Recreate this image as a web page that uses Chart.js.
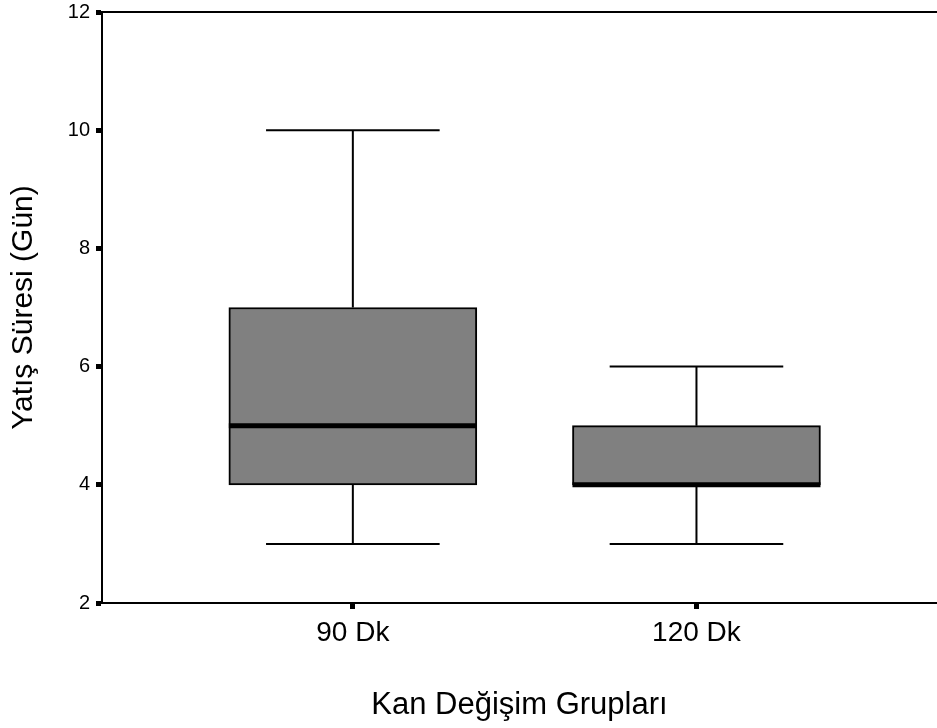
<!DOCTYPE html>
<html>
<head>
<meta charset="utf-8">
<script src="https://cdn.jsdelivr.net/npm/chart.js@4.4.1/dist/chart.umd.min.js"></script>
<style>
html,body{margin:0;padding:0;background:#fff;}
#wrap{width:937px;height:728px;}
</style>
</head>
<body>
<div id="wrap"><canvas id="c" width="937" height="728"></canvas></div>
<script>
// Data
const categories = ['90 Dk', '120 Dk'];
const minVals    = [3, 3];
const q1Vals     = [4, 4];
const medianVals = [5, 4];
const q3Vals     = [7, 5];
const maxVals    = [10, 6];
const yTicks     = [2, 4, 6, 8, 10, 12];

const FONT = '"Liberation Sans", Arial, sans-serif';

const boxData = categories.map((c, i) => ({x: i + 1, y: [q1Vals[i], q3Vals[i]]}));

const boxPlugin = {
  id: 'boxExtras',
  afterDatasetsDraw(chart) {
    const ctx = chart.ctx;
    const xs = chart.scales.x, ys = chart.scales.y;
    const meta = chart.getDatasetMeta(0);
    ctx.save();
    ctx.strokeStyle = '#000';
    categories.forEach((c, i) => {
      const bar = meta.data[i];
      const cx = xs.getPixelForValue(i + 1);
      const w = bar.width;
      const capHalf = w * 0.35;
      const yMin = ys.getPixelForValue(minVals[i]);
      const yQ1 = ys.getPixelForValue(q1Vals[i]);
      const yQ3 = ys.getPixelForValue(q3Vals[i]);
      const yMax = ys.getPixelForValue(maxVals[i]);
      const yMed = ys.getPixelForValue(medianVals[i]);
      ctx.lineWidth = 2;
      ctx.beginPath();
      ctx.moveTo(cx, yQ3); ctx.lineTo(cx, yMax);
      ctx.moveTo(cx, yQ1); ctx.lineTo(cx, yMin);
      ctx.moveTo(cx - capHalf, yMax); ctx.lineTo(cx + capHalf, yMax);
      ctx.moveTo(cx - capHalf, yMin); ctx.lineTo(cx + capHalf, yMin);
      ctx.stroke();
      ctx.lineWidth = 5;
      ctx.beginPath();
      ctx.moveTo(cx - w / 2, yMed); ctx.lineTo(cx + w / 2, yMed);
      ctx.stroke();
    });
    // top frame line
    const a = chart.chartArea;
    ctx.lineWidth = 2;
    ctx.beginPath();
    ctx.moveTo(a.left, a.top); ctx.lineTo(a.right, a.top);
    ctx.stroke();
    ctx.restore();
  }
};

new Chart(document.getElementById('c'), {
  type: 'bar',
  data: {
    datasets: [{
      data: boxData,
      backgroundColor: '#808080',
      borderColor: '#000',
      borderWidth: 2,
      borderSkipped: false,
      barThickness: 248
    }]
  },
  options: {
    responsive: false,
    animation: false,
    devicePixelRatio: 1,
    layout: {padding: {top: 12, right: 0, left: 0, bottom: 0}},
    plugins: {legend: {display: false}, tooltip: {enabled: false}},
    scales: {
      x: {
        type: 'linear',
        offset: false,
        min: 0.27,
        max: 2.70,
        afterBuildTicks(scale) { scale.ticks = categories.map((c, i) => ({value: i + 1})); },
        afterFit(scale) { scale.height = 125; scale.paddingLeft = 0; scale.paddingRight = 0; },
        ticks: {
          callback: (v) => categories[v - 1] || '',
          color: '#000',
          font: {family: FONT, size: 28},
          padding: 7,
          maxRotation: 0,
          autoSkip: false
        },
        grid: {offset: false, drawOnChartArea: false, drawTicks: true, tickLength: 6, tickWidth: 5, tickColor: '#000'},
        border: {display: true, color: '#000', width: 2},
        title: {display: true, text: 'Kan Değişim Grupları', color: '#000',
                font: {family: FONT, size: 31, lineHeight: 1}, padding: {top: 0, bottom: 7}}
      },
      y: {
        type: 'linear',
        min: 2,
        max: 12,
        afterBuildTicks(scale) { scale.ticks = yTicks.map(v => ({value: v})); },
        afterFit(scale) { scale.width = 102; scale.paddingTop = 0; scale.paddingBottom = 0; },
        ticks: {
          color: '#000',
          font: {family: FONT, size: 20},
          padding: 6
        },
        grid: {drawOnChartArea: false, drawTicks: true, tickLength: 6, tickWidth: 5, tickColor: '#000'},
        border: {display: true, color: '#000', width: 2},
        title: {display: true, text: 'Yatış Süresi (Gün)', color: '#000',
                font: {family: FONT, size: 30, lineHeight: 1}, padding: {top: 9, bottom: 0}}
      }
    }
  },
  plugins: [boxPlugin]
});
</script>
</body>
</html>
